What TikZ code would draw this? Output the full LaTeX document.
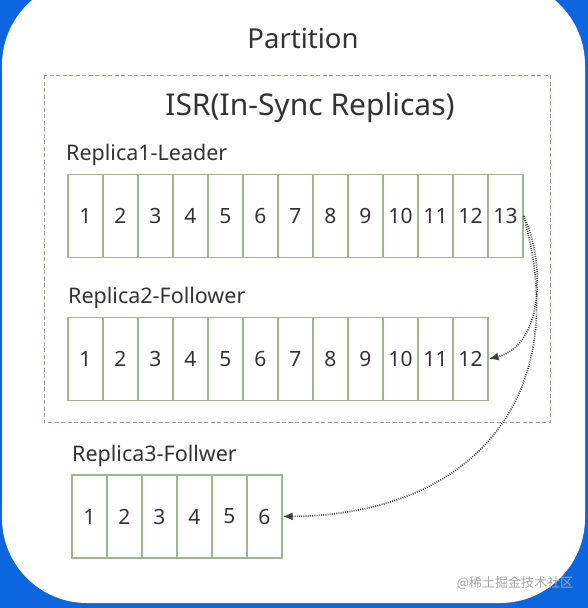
\documentclass[tikz,border=0pt]{standalone}
\usepackage{xcolor}
\usepackage{fontspec}
\setmainfont{Noto Sans}
\newfontfamily\cjk{Noto Sans CJK SC}
\usepackage{tikz}
\usetikzlibrary{arrows.meta,positioning,calc}
\definecolor{bgblue}{HTML}{0B66E0}
\definecolor{cellgreen}{HTML}{9DB88C}
\definecolor{isrgreen}{HTML}{8FA880}
\definecolor{txtgray}{HTML}{333333}

\begin{document}
\begin{tikzpicture}[x=1pt, y=-1pt,
  cell/.style={draw=cellgreen, line width=1.2pt, minimum width=35pt, minimum height=83pt, inner sep=0pt, text=txtgray, font=\fontsize{21}{21}\selectfont},
  caption/.style={anchor=west, text=txtgray, inner sep=0pt, font=\fontsize{21.5}{21.5}\selectfont},
  sync/.style={draw=black!75, line width=1.7pt, dash pattern=on 0.9pt off 1.3pt, -{Latex[length=10pt, width=8pt]}},
  ]
  \useasboundingbox (0,0) rectangle (588,608);
  \fill[bgblue] (0,0) rectangle (588,608);
  \fill[white, rounded corners=85pt] (2,-20) rectangle (585,603);

  \node[text=txtgray, font=\fontsize{27.5}{27.5}\selectfont] (part) at (303,39) {Partition};
  \draw[isrgreen, line width=1pt, dash pattern=on 4pt off 2.5pt] (44,75) rectangle (550,422);
  \node[text=txtgray, font=\fontsize{30}{30}\selectfont] (isr) at (310,108) {ISR(In-Sync Replicas)};

  \node[caption] (cap1) at (66,155) {Replica1-Leader};
  \foreach \i in {1,...,13}
    \node[cell] (r1c\i) at ({85.5+35*(\i-1)},216) {\i};

  \node[caption] (cap2) at (68,298) {Replica2-Follower};
  \foreach \i in {1,...,12}
    \node[cell] (r2c\i) at ({85.5+35*(\i-1)},359) {\i};

  \node[caption] (cap3) at (72,456) {Replica3-Follwer};
  \foreach \i in {1,...,6}
    \node[cell] (r3c\i) at ({89.5+35*(\i-1)},516.5) {\i};

  \draw[sync] (r1c13.east) .. controls (545,260) and (545,345) .. (r2c12.east);
  \draw[sync] (r1c13.east) .. controls (575,400) and (470,515) .. (r3c6.east);

  \node[text=black!35, font=\cjk\fontsize{13}{13}\selectfont] (mark) at (515,583) {@稀土掘金技术社区};
\end{tikzpicture}
\end{document}
